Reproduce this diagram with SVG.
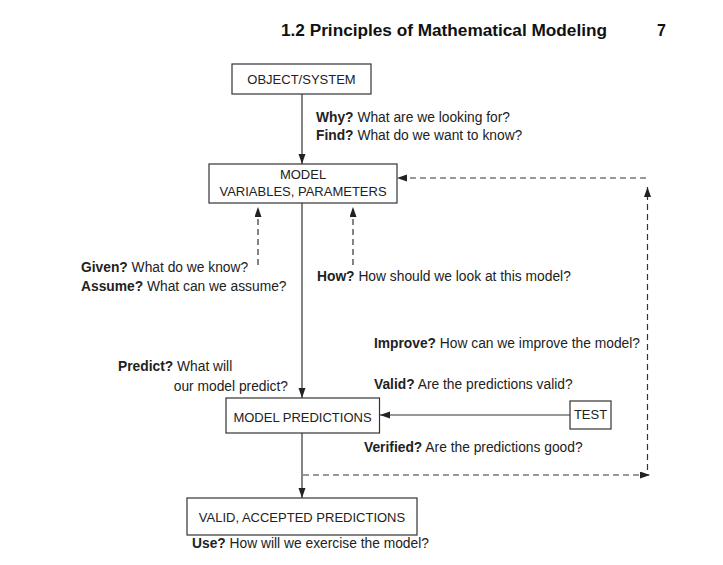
<svg xmlns="http://www.w3.org/2000/svg" width="723" height="565" viewBox="0 0 723 565">
<style>
text{font-family:"Liberation Sans",Arial,sans-serif;font-size:13.8px;fill:#222}
.n{font-size:13px}
.b{font-weight:bold}
.h{font-size:16px;font-weight:bold;fill:#111}
.c{text-anchor:middle}
.r{text-anchor:end}
rect{fill:#fff;stroke:#333;stroke-width:1.2}
.ln{stroke:#333;stroke-width:1.2;fill:none}
.d{stroke-dasharray:6,4}
</style>
<defs>
<marker id="ah" markerUnits="userSpaceOnUse" markerWidth="11" markerHeight="8" refX="10" refY="3.5" orient="auto">
<path d="M0,0 L10,3.5 L0,7 z" fill="#222"/>
</marker>
</defs>
<text class="h" x="281" y="36" textLength="326" lengthAdjust="spacingAndGlyphs">1.2  Principles of Mathematical Modeling</text>
<text class="h" x="657" y="36">7</text>
<g id="connectors">
<line class="ln" x1="302" y1="94" x2="302" y2="164" marker-end="url(#ah)"/>
<line class="ln" x1="302" y1="203" x2="302" y2="398" marker-end="url(#ah)"/>
<line class="ln" x1="302" y1="433" x2="302" y2="498" marker-end="url(#ah)"/>
<line class="ln" x1="570" y1="415" x2="380" y2="415" marker-end="url(#ah)"/>
<line class="ln d" x1="258" y1="265" x2="258" y2="207" marker-end="url(#ah)"/>
<line class="ln d" x1="353" y1="265" x2="353" y2="207" marker-end="url(#ah)"/>
<line class="ln d" x1="303" y1="475" x2="650" y2="475" marker-end="url(#ah)"/>
<line class="ln d" x1="647.5" y1="470" x2="647.5" y2="187" marker-end="url(#ah)"/>
<line class="ln d" x1="646" y1="178" x2="397" y2="178" marker-end="url(#ah)"/>
</g>
<g id="object-system">
<rect x="232" y="64" width="139" height="30"/>
<text class="c n" x="301.5" y="84">OBJECT/SYSTEM</text>
</g>
<g id="model">
<rect x="209" y="164" width="188" height="39"/>
<text class="c n" x="303" y="179">MODEL</text>
<text class="c n" x="303" y="196">VARIABLES, PARAMETERS</text>
</g>
<g id="model-predictions">
<rect x="226" y="398" width="153.5" height="35"/>
<text class="c n" x="302.5" y="421.5">MODEL PREDICTIONS</text>
</g>
<g id="test">
<rect x="570" y="401" width="41" height="28"/>
<text class="c n" x="590.5" y="419">TEST</text>
</g>
<g id="valid-accepted">
<rect x="187" y="498" width="230" height="37"/>
<text class="c n" x="302" y="521.5">VALID, ACCEPTED PREDICTIONS</text>
</g>
<g id="labels">
<text x="316" y="122"><tspan class="b">Why?</tspan> What are we looking for?</text>
<text x="316" y="140"><tspan class="b">Find?</tspan> What do we want to know?</text>
<text x="81" y="271.5"><tspan class="b">Given?</tspan> What do we know?</text>
<text x="81" y="291"><tspan class="b">Assume?</tspan> What can we assume?</text>
<text x="317" y="280.5"><tspan class="b">How?</tspan> How should we look at this model?</text>
<text class="r" x="640" y="348"><tspan class="b">Improve?</tspan> How can we improve the model?</text>
<text x="118" y="371"><tspan class="b">Predict?</tspan> What will</text>
<text class="r" x="288" y="391">our model predict?</text>
<text x="374" y="389"><tspan class="b">Valid?</tspan> Are the predictions valid?</text>
<text x="364" y="451.5"><tspan class="b">Verified?</tspan> Are the predictions good?</text>
<text x="192" y="548"><tspan class="b">Use?</tspan> How will we exercise the model?</text>
</g>
</svg>
